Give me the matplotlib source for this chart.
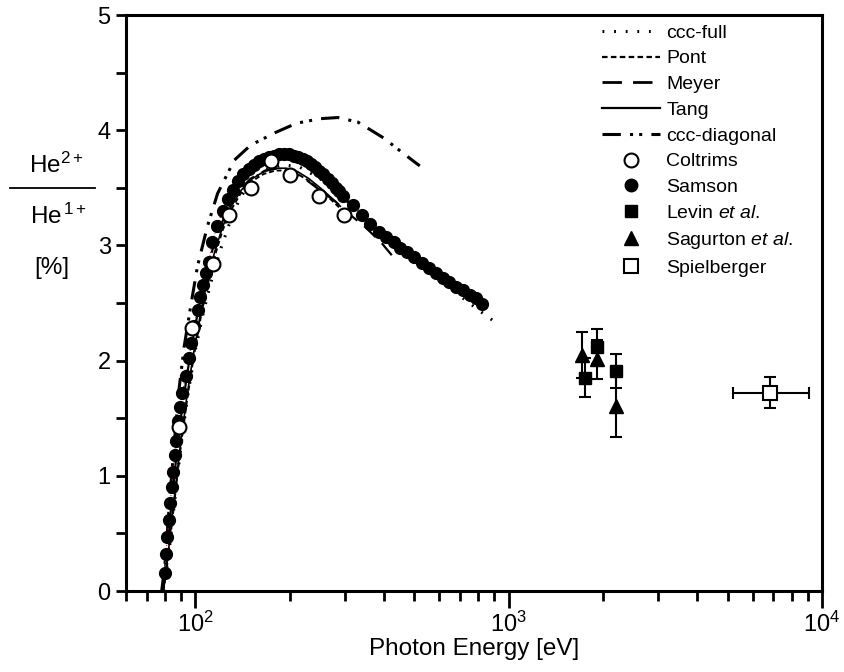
import matplotlib
matplotlib.use("Agg")
import matplotlib.pyplot as plt
from matplotlib.lines import Line2D
import numpy as np

plt.rcParams['font.family'] = ['Liberation Sans', 'DejaVu Sans']
plt.rcParams['mathtext.fontset'] = 'custom'
plt.rcParams['mathtext.rm'] = 'Liberation Sans'
plt.rcParams['mathtext.it'] = 'Liberation Sans:italic'
plt.rcParams['mathtext.bf'] = 'Liberation Sans:bold'
plt.rcParams['mathtext.default'] = 'regular'

# ---------------- data ----------------
samson_E = [80, 80.5, 81.3, 82.3, 83, 84, 85, 85.8, 86.7, 87.8, 89, 90.8, 93, 95.3, 97, 99,
            101.5, 103.5, 105.5, 108, 110.5, 113, 117.5, 122, 127, 132, 137, 142, 148, 154,
            160, 166, 172, 178, 185, 192, 199, 206, 213, 220, 227, 234, 241, 248, 256, 264,
            272, 280, 288, 296, 319, 339, 361, 384, 405, 429, 450, 475, 500, 528, 555, 585,
            615, 645, 680, 715, 750, 785, 820]
samson_R = [0.16, 0.32, 0.47, 0.62, 0.76, 0.90, 1.03, 1.18, 1.30, 1.48, 1.60, 1.72, 1.87, 2.02,
            2.15, 2.30, 2.44, 2.55, 2.66, 2.76, 2.86, 3.03, 3.17, 3.30, 3.40, 3.48, 3.56, 3.62,
            3.66, 3.70, 3.73, 3.75, 3.77, 3.78, 3.79, 3.79, 3.79, 3.78, 3.77, 3.75, 3.73, 3.71,
            3.68, 3.65, 3.62, 3.58, 3.54, 3.50, 3.47, 3.43, 3.35, 3.26, 3.19, 3.12, 3.07, 3.03,
            2.98, 2.94, 2.90, 2.85, 2.80, 2.76, 2.72, 2.68, 2.64, 2.61, 2.57, 2.54, 2.49]

coltrims_E = [88.5, 97.8, 113.4, 128.3, 150, 174, 200, 247, 298]
coltrims_R = [1.42, 2.28, 2.84, 3.26, 3.50, 3.73, 3.61, 3.43, 3.26]

levin_E = [1746, 1918, 2193]
levin_R = [1.85, 2.12, 1.91]
levin_err = [0.17, 0.15, 0.15]

sagurton_E = [1714, 1918, 2193]
sagurton_R = [2.05, 2.01, 1.61]
sagurton_err = [0.20, 0.17, 0.27]

spiel_E = [6807]
spiel_R = [1.72]
spiel_yerr = [0.135]
spiel_xerr_lo = [1620]
spiel_xerr_hi = [2290]

cccfull_E = [79, 82, 85, 88, 91, 95, 100, 106, 112, 120, 128, 138, 150, 165, 190, 215, 250,
             300, 350, 400, 450, 520, 600, 700, 800, 930]
cccfull_R = [0, 0.30, 0.68, 1.05, 1.38, 1.74, 2.10, 2.42, 2.68, 2.96, 3.18, 3.40, 3.55, 3.65,
             3.70, 3.68, 3.58, 3.40, 3.24, 3.10, 2.98, 2.84, 2.70, 2.56, 2.44, 2.31]

tang_E = [79, 81, 83, 85, 87, 90, 94, 98, 103, 108, 115, 122, 130, 140, 152, 165, 180, 195,
          212, 230, 250, 270, 290]
tang_R = [0, 0.22, 0.48, 0.74, 0.98, 1.32, 1.70, 2.02, 2.36, 2.64, 2.94, 3.16, 3.34, 3.48,
          3.58, 3.64, 3.67, 3.67, 3.64, 3.58, 3.50, 3.42, 3.34]

pont_E = tang_E
pont_R = [0, 0.20, 0.45, 0.70, 0.94, 1.28, 1.66, 1.98, 2.32, 2.60, 2.90, 3.13, 3.31, 3.46,
          3.56, 3.62, 3.65, 3.65, 3.62, 3.56, 3.48, 3.40, 3.32]

meyer_E = [78.5, 81, 84, 87, 90, 94, 98, 103, 109, 116, 125, 136, 150, 167, 185, 205, 228,
           255, 280, 307, 348, 393, 440]
meyer_R = [0, 0.35, 0.78, 1.18, 1.52, 1.88, 2.18, 2.50, 2.80, 3.06, 3.28, 3.46, 3.58, 3.65,
           3.67, 3.64, 3.56, 3.46, 3.38, 3.28, 3.16, 3.02, 2.86]

cccdiag_E = [78, 80, 83, 86, 88.5, 92, 96.5, 101.5, 109, 117.6, 133, 150, 180, 210, 250, 285,
             330, 400, 460, 520]
cccdiag_R = [0, 0.25, 0.85, 1.35, 1.74, 2.12, 2.47, 2.82, 3.16, 3.45, 3.74, 3.87, 3.98, 4.06,
             4.10, 4.11, 4.07, 3.93, 3.80, 3.69]

x_ticks = [100, 1000, 10000]
x_tick_labels = ['10$^2$', '10$^3$', '10$^4$']
y_ticks = [0, 1, 2, 3, 4, 5]

# ---------------- figure ----------------
fig = plt.figure(figsize=(8.45, 6.72), dpi=100)
ax = fig.add_axes([126/845, 1-591/672, (822-126)/845, (591-15)/672])

ax.plot(cccdiag_E, cccdiag_R, color='black', lw=2.2, ls=(0, (6, 3, 1, 2, 1, 3)))
ax.plot(meyer_E, meyer_R, color='black', lw=1.6, ls=(0, (7, 4)))
ax.plot(pont_E, pont_R, color='black', lw=1.4, ls=(0, (2.5, 1.5)))
ax.plot(tang_E, tang_R, color='black', lw=1.2, ls='-')
ax.plot(cccfull_E, cccfull_R, color='black', lw=2.2, ls=(0, (0.6, 3.2)))

ax.plot(samson_E, samson_R, color='#d02020', lw=0.8, ls=(0, (1, 2)), zorder=3)
ax.plot(samson_E, samson_R, 'o', color='black', ms=8.5, mec='black', zorder=4)
ax.plot(coltrims_E, coltrims_R, 'o', mfc='white', mec='black', ms=10, mew=1.5, zorder=6)

ek = dict(ecolor='black', elinewidth=1.5, capsize=4.5, capthick=1.5)
ax.errorbar(levin_E, levin_R, yerr=levin_err, fmt='s', color='black', ms=9, **ek, zorder=5)
ax.errorbar(sagurton_E, sagurton_R, yerr=sagurton_err, fmt='^', color='black', ms=10, **ek, zorder=5)
ax.errorbar(spiel_E, spiel_R, yerr=spiel_yerr, xerr=[spiel_xerr_lo, spiel_xerr_hi], fmt='s',
            mfc='white', mec='black', mew=1.5, ms=10, **ek, zorder=5)

ax.set_xscale('log')
ax.set_xlim(60, 10000)
ax.set_ylim(0, 5)
ax.set_xticks(x_ticks)
ax.set_xticklabels(x_tick_labels)
ax.set_yticks(y_ticks)
ax.set_yticks(np.arange(0, 5.01, 0.5), minor=True)
ax.tick_params(axis='x', which='major', direction='out', length=12, width=2, labelsize=17, pad=3)
ax.tick_params(axis='y', which='major', direction='out', length=7, width=2, labelsize=17, pad=4)
ax.tick_params(axis='x', which='minor', direction='out', length=7, width=2)
ax.tick_params(axis='y', which='minor', direction='out', length=7, width=2)
ax.xaxis.set_minor_formatter(matplotlib.ticker.NullFormatter())
for s in ax.spines.values():
    s.set_linewidth(2.2)
ax.set_xlabel('Photon Energy [eV]', fontsize=17.5, labelpad=1)

# y-label as a fraction
fig.text(56/845, 1-165/672, 'He$^{2+}$', fontsize=17.5, ha='center', va='center')
fig.text(58/845, 1-216/672, 'He$^{\\,1+}$', fontsize=17.5, ha='center', va='center')
fig.text(52/845, 1-268/672, '[%]', fontsize=17.5, ha='center', va='center')
fig.add_artist(Line2D([10/845, 95/845], [1-188/672, 1-188/672], color='black', lw=1.3,
                      transform=fig.transFigure))

# legend
handles = [
    Line2D([], [], color='black', lw=2.2, ls=(0, (0.6, 3.2))),
    Line2D([], [], color='black', lw=1.6, ls=(0, (2.5, 1.5))),
    Line2D([], [], color='black', lw=2.0, ls=(0, (7, 4))),
    Line2D([], [], color='black', lw=1.6, ls='-'),
    Line2D([], [], color='black', lw=2.2, ls=(0, (6, 3, 1, 2, 1, 3))),
    Line2D([], [], ls='none', marker='o', mfc='white', mec='black', ms=10, mew=1.5),
    Line2D([], [], ls='none', marker='o', color='black', ms=9),
    Line2D([], [], ls='none', marker='s', color='black', ms=9),
    Line2D([], [], ls='none', marker='^', color='black', ms=10),
    Line2D([], [], ls='none', marker='s', mfc='white', mec='black', ms=10, mew=1.5),
]
labels = ['ccc-full', 'Pont', 'Meyer', 'Tang', 'ccc-diagonal', 'Coltrims', 'Samson',
          'Levin $\\it{et\\ al.}$', 'Sagurton $\\it{et\\ al}$.', 'Spielberger']
leg = ax.legend(handles, labels, loc='upper left', frameon=False, fontsize=14,
                handlelength=3.0, handletextpad=0.3, labelspacing=0.42, numpoints=1,
                borderaxespad=0.0, borderpad=0.0)
leg.set_bbox_to_anchor((602/845, 1-24/672), transform=fig.transFigure)

fig.savefig('out.png', dpi=100)
